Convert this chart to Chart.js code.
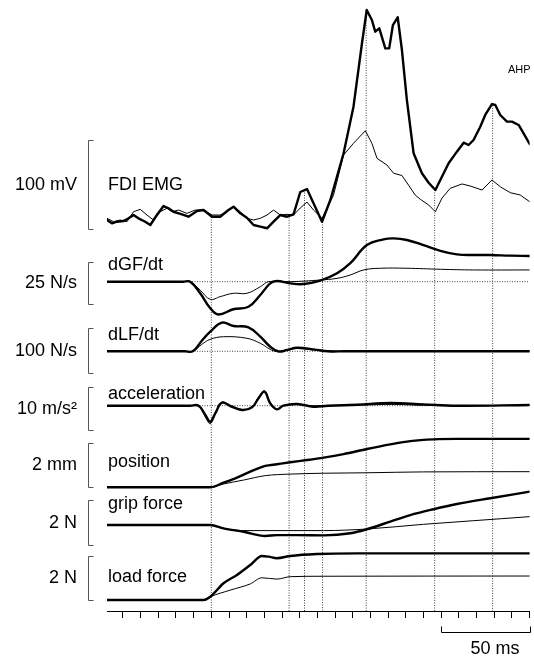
<!DOCTYPE html>
<html><head><meta charset="utf-8">
<script src="https://cdn.jsdelivr.net/npm/chart.js@4.4.1/dist/chart.umd.min.js"></script>
<style>html,body{margin:0;padding:0;background:#fff}canvas{display:block}</style>
</head><body>
<canvas id="c" width="534" height="658" style="width:534px;height:658px"></canvas>
<script>
// ---------- data (time in ms) ----------
const xTicks = [10,20,30,40,50,60,70,80,90,100,110,120,130,140,150,160,170,180,190,200,210,220,230,240];

const emgThickT = [1.0,3.8,6.6,10.4,13.2,16.0,18.8,22.6,25.5,29.2,33.0,35.8,38.6,43.4,47.1,51.9,55.6,60.4,65.0,69.7,72.6,76.4,80.1,83.9,87.7,91.5,95.2,99.0,102.8,106.5,110.3,114.1,117.8,122.6,127.3,134.8,140.4,145.2,147.9,150.8,152.7,155.0,158.4,160.6,162.7,165.4,167.8,170.6,174.4,179.1,182.9,186.7,189.5,194.2,198.9,202.7,205.5,208.3,212.1,214.9,218.7,220.6,223.4,227.2,230.0,233.8,236.6,240.0];
const emgThick = [10.1,6.4,8.2,9.0,12.0,15.7,12.0,8.2,4.5,15.7,25.8,23.3,19.4,16.5,13.8,20.2,21.3,13.8,13.8,21.3,25.1,17.6,12.7,4.5,2.6,0.8,8.2,15.7,13.8,16.5,41.6,44.9,28.9,8.2,32.6,85.1,137.4,208.7,246.1,234.8,221.7,225.5,203.0,203.0,229.2,237.9,201.1,144.9,85.1,62.6,52.0,43.8,55.1,73.8,86.9,97.0,94.4,100,114.9,128.1,140.4,139.3,128.1,120.6,120.6,116.9,107.5,95.5];
const emgThinT = [1.0,4.7,8.5,12.3,16.0,19.8,23.6,27.3,31.1,34.9,37.7,41.5,46.2,50.9,55.6,60.4,65.0,68.8,72.6,76.4,80.1,83.9,87.7,91.5,95.2,99.0,102.8,106.5,110.3,114.1,117.8,122.6,129.1,134.8,140.4,147.1,150.8,153.7,159.3,163.1,167.8,171.5,175.3,178.2,182.9,186.7,190.4,195.1,201.8,206.4,213.1,218.7,223.4,229.1,234.7,240.0];
const emgThin = [12.0,8.2,10.1,8.2,19.4,22.1,15.7,10.1,19.4,23.3,19.4,21.3,17.6,21.3,21.3,15.7,15.7,19.4,25.1,19.4,12.0,10.1,12.0,15.7,21.3,15.7,16.5,15.7,23.6,30.3,21.3,12.0,38.0,83.1,96.3,110.4,96.3,79.4,71.9,62.6,60.1,49.4,38.2,33.4,27.0,19.4,34.5,45.7,50.6,48.3,43.8,55.1,47.5,40.8,38.2,30.7];

const dgfThickT = [1,44,48.1,53.7,59.4,64.0,72.4,81.0,87.7,93.3,97.1,104.6,112.2,121.6,131.1,138.6,148.0,157.4,163.1,170.6,180.0,189.5,198.9,208.3,217.8,229.1,240];
const dgfThick = [0,0,0,-6.9,-15.8,-19.5,-16.4,-14.9,-7.9,-1.0,0.4,-1.0,-1.4,0.6,5.0,11.0,21.8,25.2,25.8,24.8,21.8,18.4,16.3,15.9,15.9,15.5,15.3];
const dgfThinT = [1,44,48.1,53.7,59.4,65.0,72.4,80.1,87.7,92.4,104.6,121.6,131.1,138.6,146.2,155.6,170.6,189.5,208.3,240];
const dgfThin = [0,0,0,-5.0,-10.5,-8.9,-6.9,-6.9,-3.0,0,0,1.0,2.0,4.0,7.0,8.0,8.0,7.4,7.0,7.0];

const dlfThickT = [1,45,49.5,54.5,59.4,66.0,72.6,81.0,87.7,93.3,98.0,103.0,108.4,117.8,126.0,135,240];
const dlfThick = [0,0,0,23,43.6,63.6,56.2,53.3,32.4,10.2,-0.5,3.0,8.0,4.4,0,0,0];
const dlfThinT = [1,45,49.5,54.5,59.4,67.0,80.1,87.7,93.3,97.0,104.6,110.3,119.7,131.1,140,240];
const dlfThin = [0,0,0,15,26.7,32.4,28.9,17.8,4.4,0,5.0,6.0,2.0,0,0,0];

const accT = [1,48,52.8,56.6,59.4,62.2,66.0,70.7,77.4,83.0,86.7,90.1,93.3,97.1,100.8,108.4,117.8,126,142.4,161.2,180.0,198.9,240];
const accThick = [0,0,0,-2.16,-3.72,-1.77,0.70,-0.07,-1.0,-0.37,1.72,3.26,0.56,-0.84,0,0.4,-0.23,0,0.23,0.62,0.30,0,0.16];
const accThin = [0,0,0,-2.6,-4.19,-2.0,0.8,0,-0.9,-0.3,2.0,3.5,0.4,-0.9,0,0.3,0,0,0.1,0.3,0.1,0,0.1];

const posThickT = [1,59.4,66.9,74.5,82.0,90.5,97.1,104.6,114.1,123.5,134.8,148.0,161.2,172.5,185.7,198.9,240];
const posThick = [0,0,0.21,0.44,0.71,0.97,1.05,1.14,1.24,1.35,1.51,1.74,1.95,2.10,2.18,2.20,2.20];
const posThinT = [1,59.4,66.9,78.3,90.5,104.6,123.5,148.0,180.0,240];
const posThin = [0,0,0.15,0.33,0.53,0.60,0.64,0.66,0.70,0.71];

const gripThickT = [1,59.4,66.9,78.3,90.5,97.1,108.4,123.5,138.6,148.0,161.2,172.5,185.7,198.9,217.8,240];
const gripThick = [0.89,0.89,0.74,0.59,0.40,0.44,0.44,0.43,0.52,0.70,1.04,1.33,1.59,1.82,2.08,2.37];
const gripThinT = [1,59.4,66.9,78.3,91.5,123.5,148.0,180.0,208.3,240];
const gripThin = [0.89,0.89,0.74,0.64,0.64,0.64,0.71,0.92,1.08,1.26];

const loadThickT = [1,55.6,59.4,66.9,74.5,82.0,88.6,92.4,97.1,104.6,119.7,142.4,240];
const loadThick = [0,0,0.15,0.76,1.14,1.59,2.00,1.97,1.90,2.00,2.09,2.12,2.12];
const loadThinT = [1,55.6,59.4,70.7,82.0,88.6,97.1,104.6,123.5,240];
const loadThin = [0,0,0.15,0.45,0.73,1.01,0.95,1.06,1.08,1.09];

// event markers: time (ms) and EMG level (mV) where each dotted line starts
const markerT = [60,104,112.7,122.9,147.6,186.3,219.1];
const markerTop = [13.5,15.7,43.8,7.9,246,43.8,141.6];

const scaleBarMs = [190,240];

// ---------- layout (pixels) ----------
const plotTop = 0, plotBottom = 611;
const panels = [
  {id:'emg',  zero:229,   ppu:0.89, bar:[0,100],      unit:'100 mV',  name:'FDI EMG',      nameY:185},
  {id:'dgf',  zero:281.7, ppu:1.68, bar:[-13.3,11.7], unit:'25 N/s',  name:'dGF/dt',       nameY:265, ref:true},
  {id:'dlf',  zero:351.3, ppu:0.45, bar:[-47.3,52.7], unit:'100 N/s', name:'dLF/dt',       nameY:335, ref:true},
  {id:'acc',  zero:405.7, ppu:4.3,  bar:[-5.6,4.4],   unit:'10 m/s²', name:'acceleration', nameY:394, ref:true},
  {id:'pos',  zero:487.3, ppu:22,   bar:[0,2],        unit:'2 mm',    name:'position',     nameY:462},
  {id:'grip', zero:545,   ppu:22.5, bar:[0,2],        unit:'2 N',     name:'grip force',   nameY:504},
  {id:'load', zero:600,   ppu:22,   bar:[0,2],        unit:'2 N',     name:'load force',   nameY:577}
];
// [axis, times, values, width, interpolation]
const series = [
  ['emg', emgThickT, emgThick, 2.4, 'line'],
  ['emg', emgThinT, emgThin, 1, 'line'],
  ['dgf', dgfThickT, dgfThick, 2.4, 'cubic'],
  ['dgf', dgfThinT, dgfThin, 1, 'cubic'],
  ['dlf', dlfThickT, dlfThick, 2.4, 'cubic'],
  ['dlf', dlfThinT, dlfThin, 1, 'cubic'],
  ['acc', accT, accThick, 2.4, 'cubic'],
  ['acc', accT, accThin, 1, 'cubic'],
  ['pos', posThickT, posThick, 2.4, 'mono'],
  ['pos', posThinT, posThin, 1, 'mono'],
  ['grip', gripThickT, gripThick, 2.4, 'mono'],
  ['grip', gripThinT, gripThin, 1, 'mono'],
  ['load', loadThickT, loadThick, 2.4, 'mono'],
  ['load', loadThinT, loadThin, 1, 'mono']
];

const scales = {
  x: {
    type:'linear', position:'bottom', min:1, max:240,
    grid:{drawOnChartArea:false, drawTicks:true, tickLength:7, color:'#000', lineWidth:1},
    border:{display:true, color:'#000', width:1},
    ticks:{display:false},
    afterBuildTicks: s => { s.ticks = xTicks.map(v => ({value:v})); }
  }
};
panels.forEach(p => {
  scales[p.id] = {type:'linear', display:false,
    min:(p.zero - plotBottom)/p.ppu, max:(p.zero - plotTop)/p.ppu};
});

const datasets = [];
series.forEach(([id,t,v,w,mode]) => {
  datasets.push({
    yAxisID:id, data:t.map((x,i)=>({x, y:v[i]})),
    borderColor:'#000', borderWidth:w, pointRadius:0,
    tension: mode === 'line' ? 0 : 0.4,
    cubicInterpolationMode: mode === 'mono' ? 'monotone' : 'default',
    borderJoinStyle:'round', borderCapStyle:'round', order:1, fill:false
  });
});
panels.filter(p=>p.ref).forEach(p => {
  datasets.push({yAxisID:p.id, data:[{x:1,y:0},{x:240,y:0}],
    borderColor:'#444', borderWidth:1, borderDash:[1,1.5], pointRadius:0, order:5});
});
const emgMin = scales.emg.min;
markerT.forEach((t,i) => {
  datasets.push({yAxisID:'emg', data:[{x:t,y:markerTop[i]},{x:t,y:emgMin}],
    borderColor:'#444', borderWidth:1, borderDash:[1,1.5], pointRadius:0, order:6});
});

const FONT = '"Liberation Sans", Arial, Helvetica, sans-serif';
const overlay = {
  id:'overlay',
  afterDraw(chart){
    const ctx = chart.ctx;
    ctx.save();
    ctx.strokeStyle = '#555'; ctx.lineWidth = 1; ctx.fillStyle = '#000';
    panels.forEach(p => {
      const s = chart.scales[p.id];
      const y0 = Math.round(s.getPixelForValue(p.bar[0])) + 0.5;
      const y1 = Math.round(s.getPixelForValue(p.bar[1])) + 0.5;
      const bx = 88.5;
      ctx.beginPath();
      ctx.moveTo(bx+5, y1); ctx.lineTo(bx, y1); ctx.lineTo(bx, y0); ctx.lineTo(bx+5, y0);
      ctx.stroke();
      ctx.font = '18px ' + FONT;
      ctx.textBaseline = 'middle';
      ctx.textAlign = 'right';
      ctx.fillText(p.unit, 77, (y0+y1)/2);
      ctx.textAlign = 'left';
      ctx.fillText(p.name, 108, p.nameY);
    });
    // time scale bar
    const xs = chart.scales.x;
    const xa = Math.round(xs.getPixelForValue(scaleBarMs[0])) + 0.5;
    const xb = Math.round(xs.getPixelForValue(scaleBarMs[1])) + 0.5;
    const yb = 632.5;
    ctx.strokeStyle = '#000';
    ctx.beginPath();
    ctx.moveTo(xa, yb-6); ctx.lineTo(xa, yb); ctx.lineTo(xb, yb); ctx.lineTo(xb, yb-6);
    ctx.stroke();
    ctx.font = '18px ' + FONT;
    ctx.textAlign = 'center'; ctx.textBaseline = 'middle';
    ctx.fillText((scaleBarMs[1]-scaleBarMs[0]) + ' ms', 495, 649);
    ctx.font = '11px ' + FONT;
    ctx.textAlign = 'left';
    ctx.fillText('AHP', 508, 70);
    ctx.restore();
  }
};

new Chart(document.getElementById('c'), {
  type:'line',
  data:{datasets},
  options:{
    responsive:false, animation:false, devicePixelRatio:1,
    layout:{padding:{left:107, right:4.4, top:0, bottom:40}},
    plugins:{legend:{display:false}, tooltip:{enabled:false}},
    scales
  },
  plugins:[overlay]
});
</script>
</body></html>
